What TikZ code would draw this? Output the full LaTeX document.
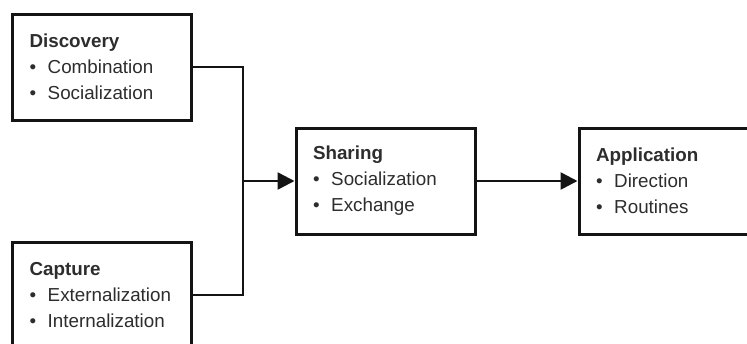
\documentclass[tikz,border=0pt]{standalone}
\usepackage{fontspec}
\setmainfont{Liberation Sans}
\usetikzlibrary{arrows.meta,positioning}
\definecolor{KMink}{RGB}{20,20,20}
\definecolor{KMtext}{RGB}{45,45,45}
\newcommand{\bul}{\textbullet\hspace{0.62em}}
\tikzset{
  phase/.style={draw=KMink,line width=1.5pt,fill=white,text=KMtext,
                align=left,inner xsep=8.5pt,inner ysep=0pt,
                text width=72.5pt,minimum height=53pt,
                font=\fontsize{9.4}{13}\selectfont},
  fl/.style={-{Triangle[length=8.5pt,width=8.5pt]},line width=1.3pt,draw=KMink},
  ln/.style={line width=1.3pt,draw=KMink}
}

\begin{document}
\begin{tikzpicture}[x=0.5pt,y=-0.5pt]
  \useasboundingbox (0,0) rectangle (747,343);
  \clip (0,0) rectangle (747,343);
  % four phases, the last one runs off the right edge
  \node[phase] (disc) at (102,67) {\textbf{Discovery}\\\bul Combination\\\bul Socialization};
  \node[phase] (capt) at (102,295) {\textbf{Capture}\\\bul Externalization\\\bul Internalization};
  \node[phase] (shar) at (385.5,181) {\textbf{Sharing}\\\bul Socialization\\\bul Exchange};
  \node[phase] (appl) at (668.5,181) {\textbf{Application}\\\bul Direction\\\bul Routines};
  \coordinate (join) at (243,181);
  \draw[ln] (disc.east) -| (join);
  \draw[ln] (capt.east) -| (join);
  \draw[fl] (join) -- (shar.west);
  \draw[fl] (shar.east) -- (appl.west);
\end{tikzpicture}
\end{document}
